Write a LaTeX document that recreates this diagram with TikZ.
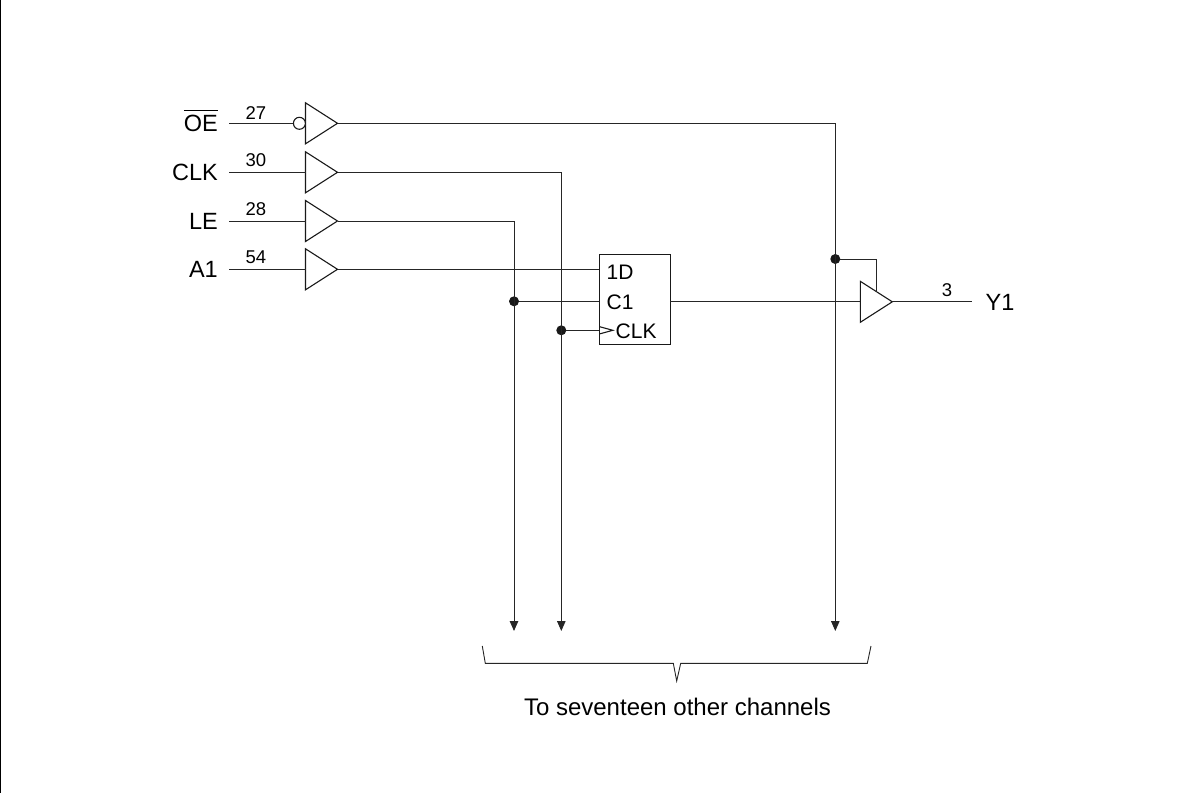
\documentclass[tikz,border=0pt]{standalone}
\usepackage{fontspec}
\setmainfont{Liberation Sans}
\usetikzlibrary{shapes.geometric,arrows.meta}
\tikzset{
  x=1pt,y=-1pt,
  wire/.style={draw=black!85,line width=1pt},
  flow/.style={wire,-{Stealth[length=10pt,width=8.5pt,inset=0pt]}},
  buffer/.style={draw=black!90,line width=1.1pt,isosceles triangle,isosceles triangle stretches,
    shape border rotate=0,minimum width=41pt,minimum height=32pt,inner sep=0pt,outer sep=0pt,anchor=west},
  bubble/.style={circle,draw=black!90,line width=1.1pt,fill=white,minimum size=12pt,inner sep=0pt,outer sep=0pt},
  junction/.style={circle,fill=black!90,minimum size=10pt,inner sep=0pt,outer sep=0pt},
  sig/.style={font=\fontsize{23.5}{25}\selectfont,anchor=base east,inner ysep=0pt,inner xsep=0pt},
  pin/.style={font=\fontsize{18.5}{20}\selectfont,anchor=base,inner sep=0pt},
  blk/.style={font=\fontsize{21}{23}\selectfont,anchor=base west,inner sep=0pt},
}
\begin{document}
\begin{tikzpicture}
\useasboundingbox (0,0) rectangle (1187,793);
\coordinate (tl) at (0.6,0); \coordinate (bl) at (0.6,793);
\draw[black,line width=1.1pt] (tl) -- (bl);
% inputs
\node[sig] (oe) at (218,131) {$\overline{\hbox{\rule{0pt}{19.3pt}OE}}$};
\node[sig] (clk) at (218,180) {CLK};
\node[sig] (le) at (218,229) {LE};
\node[sig] (a1) at (218,277) {A1};
\coordinate (oeS) at (229,123.3);
\coordinate (clkS) at (229,172.3);
\coordinate (leS) at (229,221);
\coordinate (a1S) at (229,269.3);
\node[buffer] (bo) at (305.5,123.3) {};
\node[buffer] (bc) at (305.5,172.3) {};
\node[buffer] (bl2) at (305.5,221) {};
\node[buffer] (ba) at (305.5,269.3) {};
\node[bubble] (bub) at (299.4,123.3) {};
\draw[wire] (oeS) -- (bub.west);
\draw[wire] (clkS) -- (bc.west);
\draw[wire] (leS) -- (bl2.west);
\draw[wire] (a1S) -- (ba.west);
\node[pin] at (256,119.3) {27};
\node[pin] at (256,166.8) {30};
\node[pin] at (256,215) {28};
\node[pin] at (256,263) {54};
% latch
\node[draw=black!90,line width=1.1pt,minimum width=71pt,minimum height=90pt,inner sep=0pt,outer sep=0pt] (ff) at (634.8,299.3) {};
\node[blk] at (606.5,279) {1D};
\node[blk] at (606.5,309) {C1};
\node[blk] at (615.5,338) {CLK};
\coordinate (ffD) at (599.3,269.3);
\coordinate (ffC) at (599.3,301.3);
\coordinate (ffK) at (599.3,330.3);
\coordinate (ffQ) at (670.3,301.8);
\draw[black!90,line width=1.1pt] (599.3,326.6) -- (612.8,330.3) -- (599.3,334);
% junctions
\node[junction] (jC) at (514,301.3) {};
\node[junction] (jK) at (561.3,330.3) {};
\node[junction] (jE) at (835.3,259) {};
% arrow ends
\coordinate (eL) at (514,631);
\coordinate (eC) at (561.3,631);
\coordinate (eE) at (835.3,631);
\coordinate (tL) at (514,221);
\coordinate (tC) at (561.3,172.3);
\coordinate (tE) at (835.3,123.3);
\draw[wire] (ba.apex) -- (ffD);
\draw[flow] (bl2.apex) -- (tL) -- (eL);
\draw[flow] (bc.apex) -- (tC) -- (eC);
\draw[flow] (bo.apex) -- (tE) -- (eE);
\draw[wire] (jC) -- (ffC);
\draw[wire] (jK) -- (ffK);
% output
\draw[wire] (ffQ) -- (860.3,301.8);
\node[buffer] (by) at (860.3,301.8) {};
\coordinate (en) at (876,292);
\draw[wire] (jE) -| (en);
\coordinate (yE) at (971.7,301.8);
\draw[wire] (by.apex) -- (yE);
\node[pin] at (947,296.7) {3};
\node[font=\fontsize{23.5}{25}\selectfont,anchor=base west,inner sep=0pt] (y1) at (985.5,310) {Y1};
% brace
\draw[black!85,line width=0.9pt] (482.3,646) -- (485.3,663.3) -- (673.3,663.3) -- (676.7,681) -- (680.7,663.3) -- (867.3,663.3) -- (871,646);
\node[font=\fontsize{24}{26}\selectfont,anchor=base,inner sep=0pt] (cap) at (677.5,715) {To seventeen other channels};
\end{tikzpicture}
\end{document}
